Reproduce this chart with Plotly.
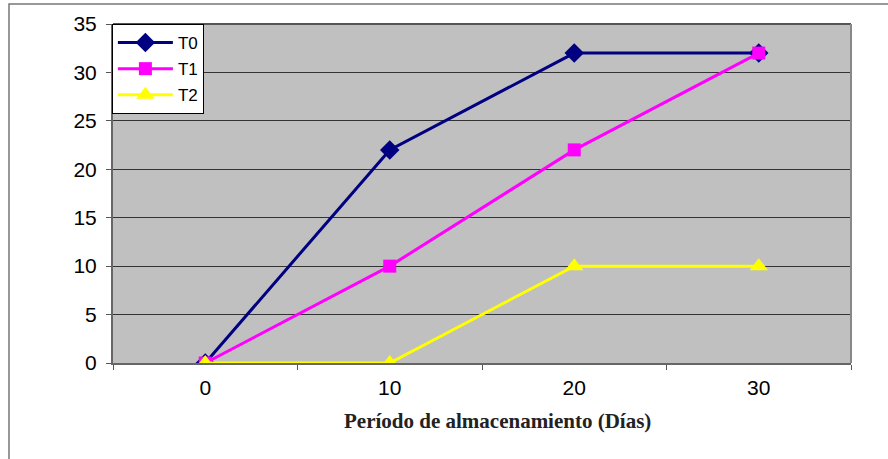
import plotly.graph_objects as go

# Storage days (category axis) and measured values per treatment
dias = ["0", "10", "20", "30"]
t0 = [0, 22, 32, 32]
t1 = [0, 10, 22, 32]
t2 = [0, 0, 10, 10]
y_ticks = [0, 5, 10, 15, 20, 25, 30, 35]

fig = go.Figure()
fig.add_trace(go.Scatter(x=dias, y=t0, name="T0", mode="lines+markers", legendgroup="a",
                         line=dict(color="#000080", width=3),
                         marker=dict(symbol="diamond", size=15, color="#000080")))
fig.add_trace(go.Scatter(x=dias, y=t1, name="T1", mode="lines+markers", legendgroup="b",
                         line=dict(color="#FF00FF", width=3),
                         marker=dict(symbol="square", size=13, color="#FF00FF")))
fig.add_trace(go.Scatter(x=dias, y=t2, name="T2", mode="lines+markers", legendgroup="c",
                         line=dict(color="#FFFF00", width=3),
                         marker=dict(symbol="triangle-up", size=16, color="#FFFF00")))

L, R, T, B = 113, 851, 24, 363
W, H = 888, 459

fig.update_layout(
    width=W, height=H,
    margin=dict(l=L, r=W - R, t=T, b=H - B),
    paper_bgcolor="white",
    plot_bgcolor="#C0C0C0",
    font=dict(family="Liberation Sans, Arial, sans-serif", size=21, color="black"),
    showlegend=True,
    legend=dict(x=-0.0015, y=1.0, xanchor="left", yanchor="top",
                bgcolor="white", bordercolor="black", borderwidth=1,
                font=dict(size=17), itemwidth=55, tracegroupgap=1),
    xaxis=dict(type="category", range=[-0.5, 3.5], tickson="boundaries",
               ticks="outside", ticklen=5, tickcolor="#555", showgrid=False,
               showline=True, linecolor="#666", linewidth=2, mirror=False,
               tickfont=dict(size=21), ticklabelstandoff=5),
    yaxis=dict(range=[0, 35], tickvals=y_ticks, ticks="outside", ticklen=5,
               tickcolor="#555", showgrid=True, gridcolor="#333", gridwidth=1,
               showline=True, linecolor="#666", linewidth=2, zeroline=False,
               tickfont=dict(size=21), ticklabelstandoff=5),
    annotations=[dict(text="<b>Período de almacenamiento (Días)</b>",
                      xref="paper", yref="paper",
                      x=(497 - L) / (R - L), y=(B - 421) / (B - T),
                      xanchor="center", yanchor="middle", showarrow=False,
                      font=dict(family="Liberation Serif, Times New Roman, serif",
                                size=21, color="#222"))],
    shapes=[
        # plot area frame (top/right)
        dict(type="line", xref="paper", yref="paper", x0=0, x1=1, y0=1, y1=1,
             line=dict(color="#555", width=2)),
        dict(type="line", xref="paper", yref="paper", x0=1, x1=1, y0=0, y1=1,
             line=dict(color="#888", width=2)),
        # outer chart border
        dict(type="rect", xref="paper", yref="paper",
             x0=(9 - L) / (R - L), x1=2.0,
             y0=-2.0, y1=(B - 4) / (B - T),
             line=dict(color="#777", width=1.5), layer="below"),
    ],
)

fig.write_html("out.html")
